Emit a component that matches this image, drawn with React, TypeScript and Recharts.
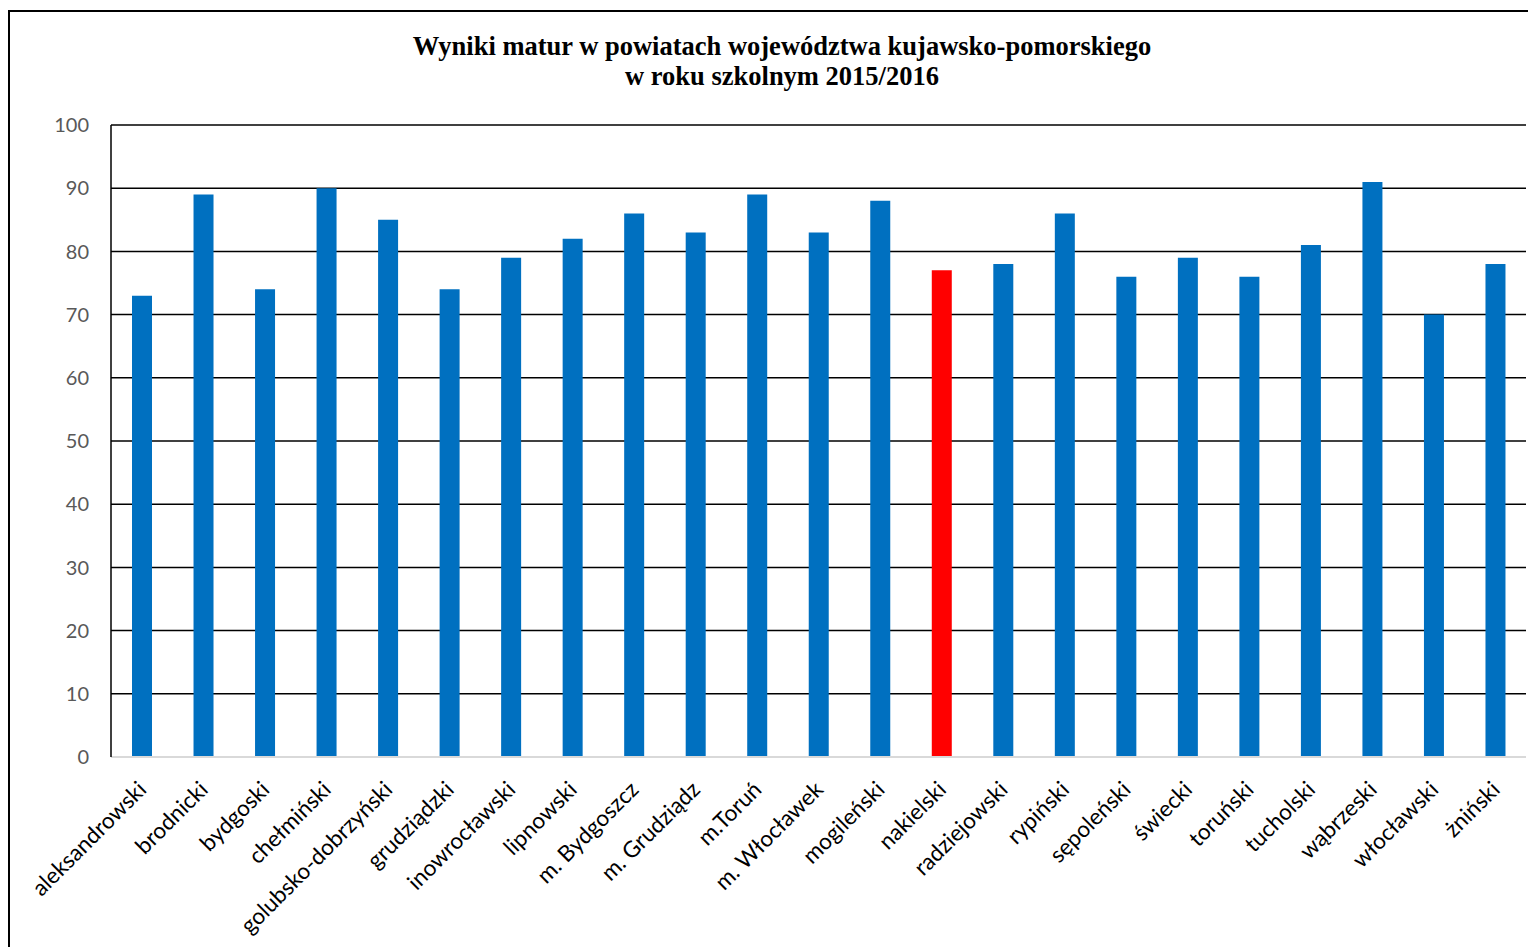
import { BarChart, Bar, XAxis, YAxis, CartesianGrid, Cell } from 'recharts';

const powiaty = [
  'aleksandrowski', 'brodnicki', 'bydgoski', 'chełmiński', 'golubsko-dobrzyński',
  'grudziądzki', 'inowrocławski', 'lipnowski', 'm. Bydgoszcz', 'm. Grudziądz',
  'm.Toruń', 'm. Włocławek', 'mogileński', 'nakielski', 'radziejowski',
  'rypiński', 'sępoleński', 'świecki', 'toruński', 'tucholski',
  'wąbrzeski', 'włocławski', 'żniński',
];
const wyniki = [73, 89, 74, 90, 85, 74, 79, 82, 86, 83, 89, 83, 88, 77, 78, 86, 76, 79, 76, 81, 91, 70, 78];
const wyroznione = 'nakielski';
const yTicks = [0, 10, 20, 30, 40, 50, 60, 70, 80, 90, 100];

const data = powiaty.map((name, i) => ({ name, value: wyniki[i] }));

const RotatedTick = ({ x, y, payload }: any) => (
  <g transform={`translate(${x + 6},${y + 26}) rotate(-45)`}>
    <text x={0} y={0} textAnchor="end" fill="#000" fontSize={22.5} fontFamily="Lato">
      {payload.value}
    </text>
  </g>
);

const App = () => {
  return (
    <div style={{ position: 'relative', width: 1528, height: 939, overflow: 'hidden' }}>
      <div
        style={{
          position: 'absolute', left: 0, top: 2, width: 1600, height: 1000,
          borderLeft: '2px solid #000', borderTop: '2px solid #000',
        }}
      />
      <div
        style={{
          position: 'absolute', left: 0, top: 23, width: 1548, textAlign: 'center',
          fontFamily: '"Liberation Serif"', fontWeight: 'bold', fontSize: 26.5, lineHeight: '30px',
        }}
      >
        Wyniki matur w powiatach województwa kujawsko-pomorskiego
        <br />
        w roku szkolnym 2015/2016
      </div>
      <div style={{ position: 'absolute', left: 0, top: 0 }}>
        <BarChart
          width={1528}
          height={939}
          data={data}
          margin={{ top: 117, right: 10, left: 0, bottom: 8 }}
          barSize={20}
        >
          <CartesianGrid vertical={false} stroke="#000" strokeWidth={1.5} />
          <XAxis
            dataKey="name"
            interval={0}
            tick={<RotatedTick />}
            tickLine={false}
            axisLine={{ stroke: '#d9d9d9', strokeWidth: 2 }}
            height={182}
          />
          <YAxis
            domain={[0, 100]}
            ticks={yTicks}
            width={103}
            tickLine={false}
            tickSize={0}
            tickMargin={22}
            axisLine={{ stroke: '#000', strokeWidth: 1.5 }}
            tick={{ fill: '#595959', fontSize: 20, fontFamily: 'Lato' }}
          />
          <Bar dataKey="value" isAnimationActive={false}>
            {data.map((d) => (
              <Cell key={d.name} fill={d.name === wyroznione ? '#FF0000' : '#0070C0'} />
            ))}
          </Bar>
        </BarChart>
      </div>
    </div>
  );
};

export default App;
